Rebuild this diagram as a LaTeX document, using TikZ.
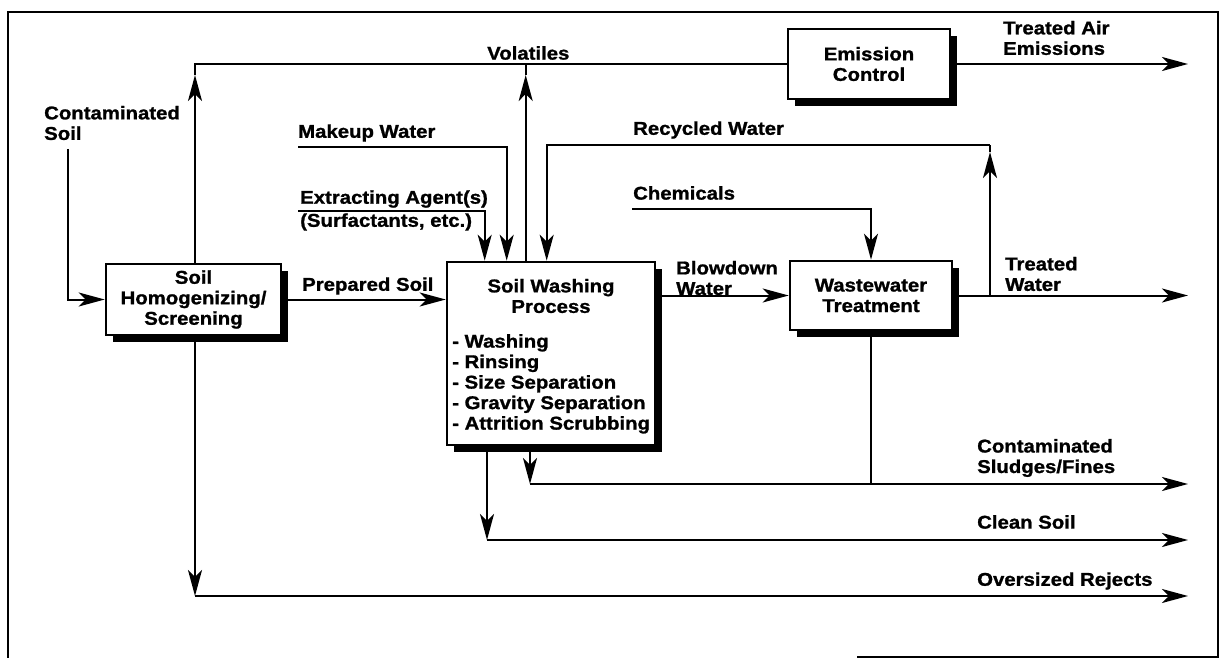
\documentclass[tikz,border=0pt]{standalone}
\usepackage{fontspec}
\setmainfont{Liberation Sans}[FakeStretch=1.1, BoldFeatures={FakeBold=1.2}]
\usetikzlibrary{arrows.meta,shadows,calc}

\begin{document}
\begin{tikzpicture}[x=1pt,y=-1pt,
  every node/.style={font=\fontsize{18.5}{20.5}\selectfont\bfseries, inner sep=0pt},
  box/.style={draw, line width=2.6pt, fill=white, align=center,
    drop shadow={shadow xshift=7pt, shadow yshift=-7pt, opacity=1, fill=black}},
  flow/.style={line width=2pt, -{Stealth[length=26pt,width=14pt,inset=7pt]}},
  pipe/.style={line width=2pt},
  lbl/.style={anchor=west, align=left}]

\useasboundingbox (0,0) rectangle (1221,658);

% outer frame
\draw[line width=2.5pt] (8,660) -- (8,12) -- (1218,12) -- (1218,660);
\draw[line width=2pt] (857,657) -- (1218,657);

% process units
\node[box, minimum width=175pt, minimum height=71pt] (SH) at (193.5,299.5) {Soil\\Homogenizing/\\Screening};
\node[box, minimum width=208pt, minimum height=183pt] (SW) at (551,353.5) {};
\node[box, minimum width=162pt, minimum height=69pt] (WT) at (871,295.5) {Wastewater\\Treatment};
\node[box, minimum width=162pt, minimum height=70pt] (EC) at (869,64) {Emission\\Control};

\node[align=center] (SWt) at (551,296) {Soil Washing\\Process};
\node[align=left, anchor=north west] (SWl) at (452,334)
  {- Washing\\- Rinsing\\- Size Separation\\- Gravity Separation\\- Attrition Scrubbing};

% stream labels
\node[lbl] (lcs) at (44,123) {Contaminated\\Soil};
\node[lbl] (lvol) at (487,53) {Volatiles};
\node[lbl] (lmw) at (298,133) {Makeup Water};
\node[lbl] (lea) at (300,199) {Extracting Agent(s)};
\node[lbl] (lsurf) at (300,222) {(Surfactants, etc.)};
\node[lbl] (lrw) at (633,130) {Recycled Water};
\node[lbl] (lch) at (633,193) {Chemicals};
\node[lbl] (lps) at (302,286) {Prepared Soil};
\node[lbl] (lbd) at (676,278) {Blowdown\\Water};
\node[lbl] (lta) at (1003,38) {Treated Air\\Emissions};
\node[lbl] (ltw) at (1005,274) {Treated\\Water};
\node[lbl] (lsl) at (977,458) {Contaminated\\Sludges/Fines};
\node[lbl] (lcl) at (977,522) {Clean Soil};
\node[lbl] (lov) at (977,581) {Oversized Rejects};

% junctions and stream ends
\coordinate (xend) at (1188,0);
\coordinate (csin) at (68,149);
\coordinate (mwin) at (298,147);
\coordinate (eain) at (298,211);
\coordinate (chin) at (632,209);
\coordinate (rtop) at (990,145);
\coordinate (vtop) at (195,64);
\coordinate (swup) at ([xshift=80pt]SW.north west);
\coordinate (sludj) at (530,484);
\coordinate (cleanj) at (487,540);
\coordinate (overj) at (195,596);

% feed
\draw[flow] (csin) |- (SH.west);
\draw[flow] (SH.east) -- (SW.west |- SH.east);

% volatiles to emission control
\draw[flow] (SH.north -| vtop) -- ([yshift=-11pt]vtop);
\draw[pipe] ([yshift=-11pt]vtop) -- (vtop) -- (EC.west);
\draw[flow] (swup) -- (swup |- 0,75);
\draw[pipe] (swup |- 0,75) -- (swup |- vtop);
\draw[flow] (EC.east) -- (EC.east -| xend);

% water and agent inputs
\draw[flow] (mwin) -| ([xshift=61pt]SW.north west);
\draw[flow] (eain) -| ([xshift=39pt]SW.north west);
\draw[flow] (rtop) -| ([xshift=101pt]SW.north west);
\draw[flow] (WT.east -| rtop) -- ([yshift=-7pt]rtop);
\draw[pipe] ([yshift=-7pt]rtop) -- (rtop);
\draw[flow] (chin) -| (WT.north);

% water treatment
\draw[flow] (SW.east |- WT.west) -- (WT.west);
\draw[flow] (WT.east) -- (WT.east -| xend);

% solid outputs
\draw[flow] (SW.south -| sludj) -- (sludj);
\draw[flow] (sludj) -- (sludj -| xend);
\draw[pipe] (WT.south) -- (WT.south |- sludj);
\draw[flow] (SW.south -| cleanj) -- (cleanj);
\draw[flow] (cleanj) -- (cleanj -| xend);
\draw[flow] (SH.south -| overj) -- (overj);
\draw[flow] (overj) -- (overj -| xend);
\end{tikzpicture}
\end{document}
